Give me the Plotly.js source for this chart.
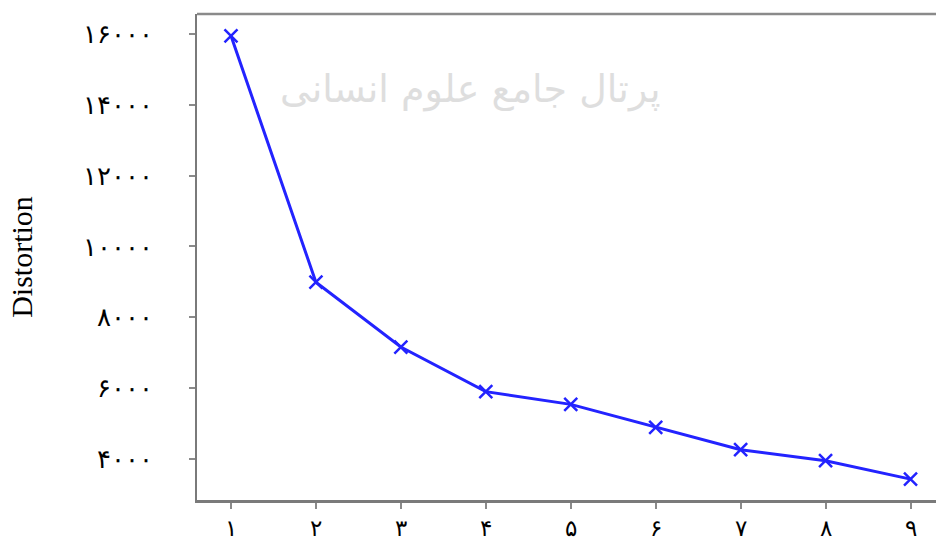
<!DOCTYPE html>
<html>
<head>
<meta charset="utf-8">
<script src="https://cdn.plot.ly/plotly-3.0.1.min.js"></script>
<style>html,body{margin:0;padding:0;overflow:hidden;background:#fff}</style>
</head>
<body>
<div id="chart" style="width:936px;height:547px"></div>
<script>
const clusters = [1, 2, 3, 4, 5, 6, 7, 8, 9];
const distortion = [15950, 8990, 7160, 5900, 5540, 4890, 4260, 3950, 3430];
const xTickLabels = ['۱', '۲', '۳', '۴', '۵', '۶', '۷', '۸', '۹'];
const yTickValues = [4000, 6000, 8000, 10000, 12000, 14000, 16000];
const yTickLabels = ['۴۰۰۰', '۶۰۰۰', '۸۰۰۰', '۱۰۰۰۰', '۱۲۰۰۰', '۱۴۰۰۰', '۱۶۰۰۰'];
const watermark = 'پرتال جامع علوم انسانی';

const trace = {
  x: clusters,
  y: distortion,
  type: 'scatter',
  mode: 'lines+markers',
  line: {color: 'rgb(35,35,255)', width: 3},
  marker: {symbol: 'x-thin-open', size: 13, color: 'rgb(35,35,255)', line: {color: 'rgb(35,35,255)', width: 2.5}},
  hoverinfo: 'skip'
};

const layout = {
  width: 936, height: 547,
  margin: {l: 197, r: 0, t: 14, b: 47},
  paper_bgcolor: '#fff', plot_bgcolor: '#fff',
  showlegend: false,
  font: {family: 'Liberation Serif, DejaVu Serif, serif', color: '#000'},
  xaxis: {
    range: [0.6, 9.3],
    tickvals: clusters, ticktext: xTickLabels,
    showgrid: false, zeroline: false,
    showline: true, linecolor: '#7a7a7a', linewidth: 2.5,
    ticks: 'outside', ticklen: 6, tickwidth: 2, tickcolor: '#8a8a8a',
    ticklabelstandoff: 0,
    tickfont: {size: 23, family: 'Liberation Serif, DejaVu Serif, serif', color: '#000'}
  },
  yaxis: {
    range: [2840, 16565],
    tickvals: yTickValues, ticktext: yTickLabels,
    showgrid: false, zeroline: false,
    showline: true, linecolor: '#7a7a7a', linewidth: 2.5,
    ticks: 'outside', ticklen: 6, tickwidth: 2, tickcolor: '#8a8a8a',
    ticklabelstandoff: 30,
    tickfont: {size: 26, family: 'Liberation Serif, DejaVu Serif, serif', color: '#000'},
    title: {text: 'Distortion', standoff: 42, font: {size: 30, family: 'Liberation Serif, serif', color: '#000'}}
  },
  shapes: [
    {type: 'line', xref: 'paper', yref: 'paper', x0: 0, x1: 1, y0: 1, y1: 1, line: {color: '#8a8a8a', width: 2.5}}
  ],
  annotations: [
    {text: watermark, xref: 'paper', yref: 'paper', x: 0.37, y: 0.895, showarrow: false,
     font: {size: 38, family: 'DejaVu Sans, Noto Sans, sans-serif', color: '#dedede'}}
  ]
};

Plotly.newPlot('chart', [trace], layout, {displayModeBar: false, staticPlot: true});
</script>
</body>
</html>
